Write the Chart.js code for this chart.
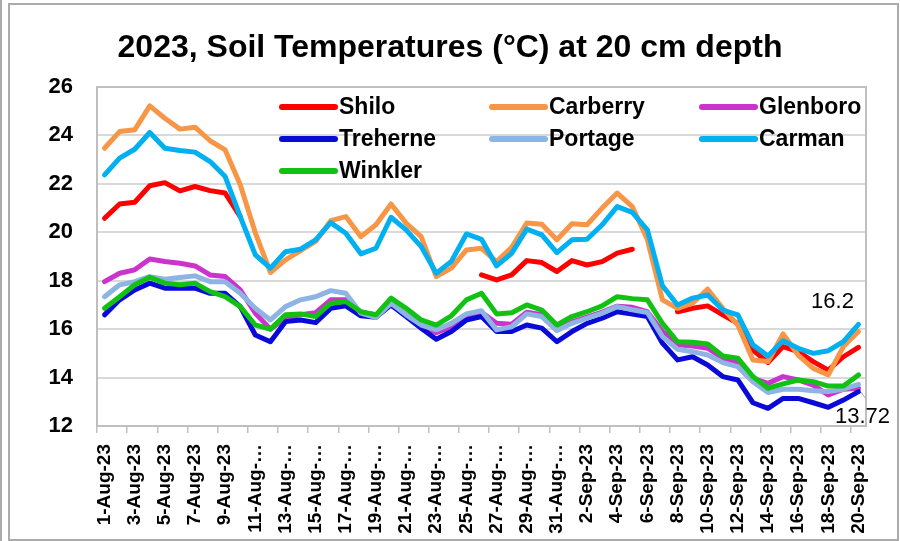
<!DOCTYPE html>
<html>
<head>
<meta charset="utf-8">
<script src="https://cdn.jsdelivr.net/npm/chart.js@4"></script>
<style>
  body { margin: 0; background: #fff; }
  canvas { display: block; }
</style>
</head>
<body>
<canvas id="chartSuelo" width="900" height="541"></canvas>
<script>
const fechas = [
  '1-Aug-23','2-Aug-23','3-Aug-23','4-Aug-23','5-Aug-23','6-Aug-23','7-Aug-23','8-Aug-23','9-Aug-23','10-Aug-23',
  '11-Aug-23','12-Aug-23','13-Aug-23','14-Aug-23','15-Aug-23','16-Aug-23','17-Aug-23','18-Aug-23','19-Aug-23','20-Aug-23',
  '21-Aug-23','22-Aug-23','23-Aug-23','24-Aug-23','25-Aug-23','26-Aug-23','27-Aug-23','28-Aug-23','29-Aug-23','30-Aug-23',
  '31-Aug-23','1-Sep-23','2-Sep-23','3-Sep-23','4-Sep-23','5-Sep-23','6-Sep-23','7-Sep-23','8-Sep-23','9-Sep-23',
  '10-Sep-23','11-Sep-23','12-Sep-23','13-Sep-23','14-Sep-23','15-Sep-23','16-Sep-23','17-Sep-23','18-Sep-23','19-Sep-23',
  '20-Sep-23'
];

const shilo = [20.58,21.17,21.24,21.92,22.05,21.71,21.89,21.72,21.62,20.65,
  null,null,null,null,null,null,null,null,null,null,
  null,null,null,null,null,18.24,18.03,18.24,18.83,18.75,
  18.38,18.83,18.65,18.79,19.14,19.30,null,null,16.72,16.86,
  16.96,16.59,16.24,15.14,14.62,15.28,15.07,14.66,14.31,14.86,
  15.25];
const carberry = [23.47,24.16,24.23,25.22,24.71,24.26,24.34,23.78,23.40,21.96,
  19.98,18.34,18.86,19.24,19.62,20.48,20.65,19.82,20.31,21.17,
  20.38,19.82,18.17,18.52,19.27,19.34,18.79,19.38,20.38,20.33,
  19.69,20.35,20.31,21.00,21.62,21.06,19.70,17.21,16.86,17.07,
  17.65,16.86,16.17,14.73,14.66,15.80,14.93,14.38,14.11,15.28,
  15.90];
const glenboro = [17.96,18.31,18.45,18.90,18.79,18.72,18.61,18.24,18.17,17.62,
  16.66,16.00,16.45,16.60,16.68,17.21,17.21,16.70,16.60,17.00,
  16.60,16.15,15.85,16.10,16.50,16.70,16.24,16.20,16.70,16.60,
  16.00,16.30,16.50,16.70,16.95,16.90,16.72,15.90,15.35,15.30,
  15.21,14.80,14.62,13.97,13.76,14.04,13.90,13.69,13.28,13.52,
  13.56];
const treherne = [16.59,17.21,17.62,17.90,17.69,17.69,17.69,17.48,17.48,16.93,
  15.76,15.48,16.31,16.38,16.27,16.86,16.96,16.55,16.49,17.00,
  16.52,16.04,15.58,15.90,16.38,16.52,15.90,15.90,16.17,16.04,
  15.48,15.90,16.24,16.45,16.72,16.62,16.52,15.42,14.73,14.86,
  14.52,14.04,13.90,12.96,12.73,13.14,13.14,12.96,12.77,13.07,
  13.42];
const portage = [17.34,17.83,17.96,18.17,18.06,18.13,18.20,17.96,17.96,17.48,
  16.86,16.38,16.93,17.21,17.34,17.59,17.48,16.66,16.48,17.07,
  16.59,16.17,15.97,16.24,16.63,16.76,15.97,16.10,16.63,16.52,
  15.94,16.24,16.45,16.66,16.93,16.80,16.69,15.69,15.17,15.07,
  14.93,14.62,14.45,13.83,13.38,13.52,13.52,13.46,13.42,13.52,
  13.72];
const carman = [22.37,23.06,23.43,24.12,23.47,23.38,23.31,22.92,22.30,20.65,
  19.07,18.52,19.20,19.30,19.69,20.40,19.96,19.11,19.34,20.62,
  20.10,19.41,18.31,18.80,19.93,19.71,18.61,19.13,20.13,19.89,
  19.16,19.69,19.71,20.31,21.06,20.82,20.10,17.79,17.00,17.28,
  17.41,16.79,16.59,15.35,14.89,15.52,15.21,15.00,15.11,15.48,
  16.2];
const winkler = [16.86,17.34,17.83,18.14,17.90,17.83,17.90,17.55,17.34,16.93,
  16.17,16.00,16.59,16.63,16.52,17.07,17.14,16.72,16.59,17.28,
  16.86,16.38,16.17,16.55,17.21,17.48,16.63,16.68,17.00,16.79,
  16.17,16.52,16.72,16.96,17.34,17.26,17.21,16.24,15.48,15.46,
  15.39,14.89,14.80,14.04,13.56,13.74,13.90,13.83,13.65,13.65,
  14.11];

const estaciones = ['Shilo','Carberry','Glenboro','Treherne','Portage','Carman','Winkler'];
const series = [shilo, carberry, glenboro, treherne, portage, carman, winkler];
const colores = ['#FF0000','#F79646','#CC33CC','#0A0AD8','#8DB4E2','#00B0F0','#12C212'];

const fuente = "'Liberation Sans', Arial, sans-serif";

// leyenda dentro del area, 3 columnas como en Excel
const leyendaPlugin = {
  id: 'leyendaInterna',
  afterDraw(chart) {
    const ctx = chart.ctx;
    const colX = [282, 492, 702];
    const filaY = [107, 139, 171];
    ctx.save();
    ctx.font = 'bold 23px ' + fuente;
    ctx.textBaseline = 'middle';
    chart.data.datasets.forEach((ds, i) => {
      const x = colX[i % 3];
      const y = filaY[Math.floor(i / 3)];
      ctx.strokeStyle = ds.borderColor;
      ctx.lineWidth = 6;
      ctx.lineCap = 'round';
      ctx.beginPath();
      ctx.moveTo(x, y);
      ctx.lineTo(x + 53, y);
      ctx.stroke();
      ctx.fillStyle = '#000';
      ctx.fillText(ds.label, x + 57, y + 1);
    });
    ctx.restore();
  }
};

// marco del area de trazado, borde exterior y etiquetas finales
const marcoPlugin = {
  id: 'marco',
  beforeDatasetsDraw(chart) {
    const { ctx, chartArea: a } = chart;
    ctx.save();
    ctx.strokeStyle = '#BFBFBF';
    ctx.lineWidth = 2;
    ctx.strokeRect(a.left, a.top, a.right - a.left, a.bottom - a.top);
    ctx.restore();
  },
  afterDraw(chart) {
    const ctx = chart.ctx;
    ctx.save();
    ctx.strokeStyle = '#ABABAB';
    ctx.lineWidth = 2;
    ctx.strokeRect(9, 4, 889, 536);
    ctx.beginPath();
    ctx.moveTo(1, 0);
    ctx.lineTo(1, 541);
    ctx.stroke();

    ctx.font = '22px ' + fuente;
    ctx.fillStyle = '#000';
    ctx.textAlign = 'center';
    ctx.textBaseline = 'middle';
    const ult = fechas.length - 1;
    const pCarman = chart.getDatasetMeta(5).data[ult];
    ctx.fillText(String(carman[ult]), pCarman.x - 26, pCarman.y - 22);
    const pPortage = chart.getDatasetMeta(4).data[ult];
    ctx.strokeStyle = '#A6A6A6';
    ctx.lineWidth = 1;
    ctx.beginPath();
    ctx.moveTo(pPortage.x + 2, pPortage.y + 7);
    ctx.lineTo(pPortage.x + 7, pPortage.y + 14);
    ctx.stroke();
    ctx.fillText(String(portage[ult]), pPortage.x + 4, pPortage.y + 33);
    ctx.restore();
  }
};

new Chart(document.getElementById('chartSuelo'), {
  type: 'line',
  data: {
    labels: fechas,
    datasets: estaciones.map((nombre, i) => ({
      label: nombre,
      data: series[i],
      borderColor: colores[i],
      backgroundColor: colores[i],
      borderWidth: 5,
      borderCapStyle: 'round',
      borderJoinStyle: 'round',
      pointRadius: 0,
      tension: 0,
      spanGaps: false,
      order: estaciones.length - i
    }))
  },
  options: {
    responsive: false,
    animation: false,
    layout: { padding: 0 },
    plugins: {
      legend: { display: false },
      tooltip: { enabled: false },
      title: {
        display: true,
        text: '2023, Soil Temperatures (°C) at 20 cm depth',
        color: '#000',
        font: { family: fuente, size: 32, weight: 'bold' },
        padding: { top: 29, bottom: 19.6 }
      }
    },
    scales: {
      x: {
        offset: true,
        afterFit(scale) { scale.height = 115; },
        border: { display: true, color: '#BFBFBF', width: 2 },
        grid: {
          offset: true,
          drawOnChartArea: false,
          drawTicks: true,
          tickLength: 7,
          lineWidth: 1.5,
          color: c => (c.index % 2 === 0 ? '#BFBFBF' : 'rgba(0,0,0,0)')
        },
        ticks: {
          autoSkip: false,
          maxRotation: 90,
          minRotation: 90,
          padding: 11,
          color: '#000',
          font: { family: fuente, size: 19, weight: 'bold' },
          callback(v, i) {
            if (i % 2 !== 0) return '';
            const f = fechas[i];
            // Excel recorta las etiquetas largas de agosto
            if (f.endsWith('Aug-23') && f.length > 8) return f.slice(0, 7) + '…';
            return f;
          }
        }
      },
      y: {
        min: 12,
        max: 26,
        afterFit(scale) { scale.width = 97; },
        border: { display: true, color: '#BFBFBF', width: 2 },
        grid: { color: '#D9D9D9', lineWidth: 2, drawTicks: false },
        ticks: {
          stepSize: 2,
          padding: 24,
          color: '#000',
          font: { family: fuente, size: 22, weight: 'bold' }
        }
      },
      // eje vacio a la derecha solo para reservar el margen
      derecha: {
        type: 'linear',
        position: 'right',
        min: 12,
        max: 26,
        afterFit(scale) { scale.width = 34; },
        border: { display: false },
        grid: { drawOnChartArea: false, drawTicks: false },
        ticks: { display: false }
      }
    }
  },
  plugins: [leyendaPlugin, marcoPlugin]
});
</script>
</body>
</html>
